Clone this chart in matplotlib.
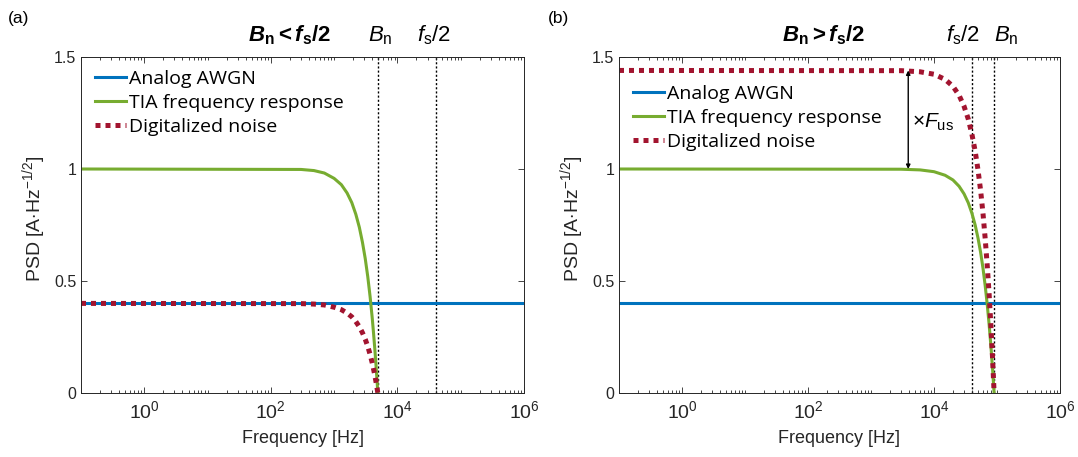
import matplotlib
matplotlib.use('Agg')
import matplotlib.pyplot as plt
from matplotlib.ticker import FixedLocator, LogLocator, NullFormatter
import numpy as np

plt.rcParams['font.family'] = ['Liberation Sans', 'DejaVu Sans']
plt.rcParams['mathtext.fontset'] = 'custom'
plt.rcParams['mathtext.rm'] = 'Liberation Sans'
plt.rcParams['mathtext.it'] = 'Liberation Sans:italic'
plt.rcParams['mathtext.bf'] = 'Liberation Sans:bold'
plt.rcParams['mathtext.bfit'] = 'Liberation Sans:italic:bold'

# values
# (a) Bn < fs/2
f_a = [0.1, 300, 480, 700, 1000, 1300, 1600, 1900, 2200, 2500, 2800, 3100,
       3400, 3700, 4000, 4200, 4400, 4600, 4800, 4900]
tia_a = [1.0, 0.998, 0.993, 0.982, 0.958, 0.930, 0.893, 0.850, 0.798, 0.740,
         0.673, 0.600, 0.519, 0.430, 0.334, 0.265, 0.194, 0.119, 0.040, 0.0]
dig_a = [0.4, 0.399, 0.397, 0.393, 0.383, 0.372, 0.357, 0.340, 0.319, 0.296,
         0.269, 0.240, 0.208, 0.172, 0.134, 0.106, 0.078, 0.048, 0.016, 0.0]
awgn_a = 0.4
bn_a, fs2_a = 4900, 40000

# (b) Bn > fs/2
f_b = [0.1, 3000, 6000, 10000, 15000, 20000, 25000, 30000, 35000, 40000,
       45000, 50000, 55000, 60000, 65000, 70000, 75000, 80000, 85000, 90000]
tia_b = [1.0, 0.999, 0.996, 0.988, 0.972, 0.951, 0.923, 0.889, 0.849, 0.802,
         0.750, 0.691, 0.627, 0.556, 0.478, 0.395, 0.306, 0.210, 0.108, 0.0]
dig_b = [1.44, 1.439, 1.434, 1.423, 1.400, 1.369, 1.329, 1.280, 1.223, 1.155,
         1.080, 0.995, 0.903, 0.800, 0.688, 0.569, 0.441, 0.302, 0.156, 0.0]
awgn_b = 0.4
bn_b, fs2_b = 90000, 40000
f_arrow = 3900

c_blue = '#0072BD'
c_green = '#77AC30'
c_red = '#A2142F'

fig = plt.figure(figsize=(10.78, 4.57), dpi=100)
ax1 = fig.add_axes([81/1078, 64/457, 443/1078, 336/457])
ax2 = fig.add_axes([619/1078, 64/457, 441/1078, 336/457])


def style(ax):
    ax.set_xscale('log')
    ax.set_xlim(0.1, 1e6)
    ax.set_ylim(0, 1.5)
    ax.xaxis.set_major_locator(FixedLocator([1, 1e2, 1e4, 1e6]))
    ax.xaxis.set_minor_locator(LogLocator(base=10, subs=np.arange(1, 10), numticks=50))
    ax.xaxis.set_minor_formatter(NullFormatter())
    ax.set_yticks([0, 0.5, 1, 1.5])
    ax.set_yticklabels(['0', '0.5', '1', '1.5'])
    ax.tick_params(which='both', direction='in', top=True, right=True,
                   labelsize=11.5, colors='#262626', width=0.6)
    ax.tick_params(axis='x', which='major', labelsize=14, pad=5)
    ax.tick_params(which='major', length=4)
    ax.tick_params(which='minor', length=2.5)
    for s in ax.spines.values():
        s.set_color('#262626')
        s.set_linewidth(0.7)
    ax.set_xlabel('Frequency [Hz]', fontsize=13, color='#262626', labelpad=6)
    ax.set_ylabel(r'PSD [A$\cdot$Hz$^{\mathrm{-1/2}}$]', fontsize=14,
                  color='#262626')
    ax.yaxis.set_label_coords(-0.075, 0.52)


def curves(ax, f, awgn, tia, dig):
    ax.plot([0.1, 1e6], [awgn, awgn], color=c_blue, lw=2.2, label='Analog AWGN')
    ax.plot(f, tia, color=c_green, lw=2.2, label='TIA frequency response')
    ax.plot(f, dig, color=c_red, lw=3.6, linestyle=(0, (1, 1)),
            dash_capstyle='butt', label='Digitalized noise')


for ax in (ax1, ax2):
    style(ax)

curves(ax1, f_a, awgn_a, tia_a, dig_a)
curves(ax2, f_b, awgn_b, tia_b, dig_b)

for ax, xs in ((ax1, (bn_a, fs2_a)), (ax2, (fs2_b, bn_b))):
    for x in xs:
        ax.axvline(x, color='black', lw=1.0, linestyle=(0, (1.5, 1.5)), zorder=1)

leg_kw = dict(frameon=False, loc='upper left', handlelength=1.6,
              handletextpad=0.15, labelspacing=0.3, borderpad=0, borderaxespad=0,
              prop={'family': 'Open Sans', 'size': 14})
ax1.legend(bbox_to_anchor=(14/443, 1 - 13/336), **leg_kw)
ax2.legend(bbox_to_anchor=(14/441, 1 - 28/336), **leg_kw)

# labels on top
top_y = 1.568
ax1.text(195, top_y, r'$\mathbfit{B}_{\mathbf{n}}\mathbf{<}\mathbfit{f}_{\mathbf{s}}\mathbf{/2}$',
         ha='center', va='baseline', fontsize=16)
ax2.text(175, top_y, r'$\mathbfit{B}_{\mathbf{n}}\mathbf{>}\mathbfit{f}_{\mathbf{s}}\mathbf{/2}$',
         ha='center', va='baseline', fontsize=16)
ax1.text(bn_a * 1.1, top_y, r'$B_{\mathrm{n}}$', ha='center', va='baseline', fontsize=16)
ax1.text(fs2_a * 0.95, top_y, r'$f_{\mathrm{s}}/2$', ha='center', va='baseline', fontsize=16)
ax2.text(29000, top_y, r'$f_{\mathrm{s}}/2$', ha='center', va='baseline', fontsize=16)
ax2.text(138000, top_y, r'$B_{\mathrm{n}}$', ha='center', va='baseline', fontsize=16)

# oversampling arrow
ax2.annotate('', xy=(f_arrow, dig_b[0]), xytext=(f_arrow, tia_b[0]),
             arrowprops=dict(arrowstyle='<|-|>', color='black', lw=1.0,
                             mutation_scale=6, shrinkA=0, shrinkB=0))
ax2.text(f_arrow * 1.15, 1.21, r'×$F_{\mathrm{us}}$', ha='left', va='center', fontsize=15)

fig.text(8/1078, 1 - 18/457, '(a)', fontsize=12.5, va='center', ha='left')
fig.text(548/1078, 1 - 18/457, '(b)', fontsize=12.5, va='center', ha='left')

fig.savefig('out.png', dpi=100)
